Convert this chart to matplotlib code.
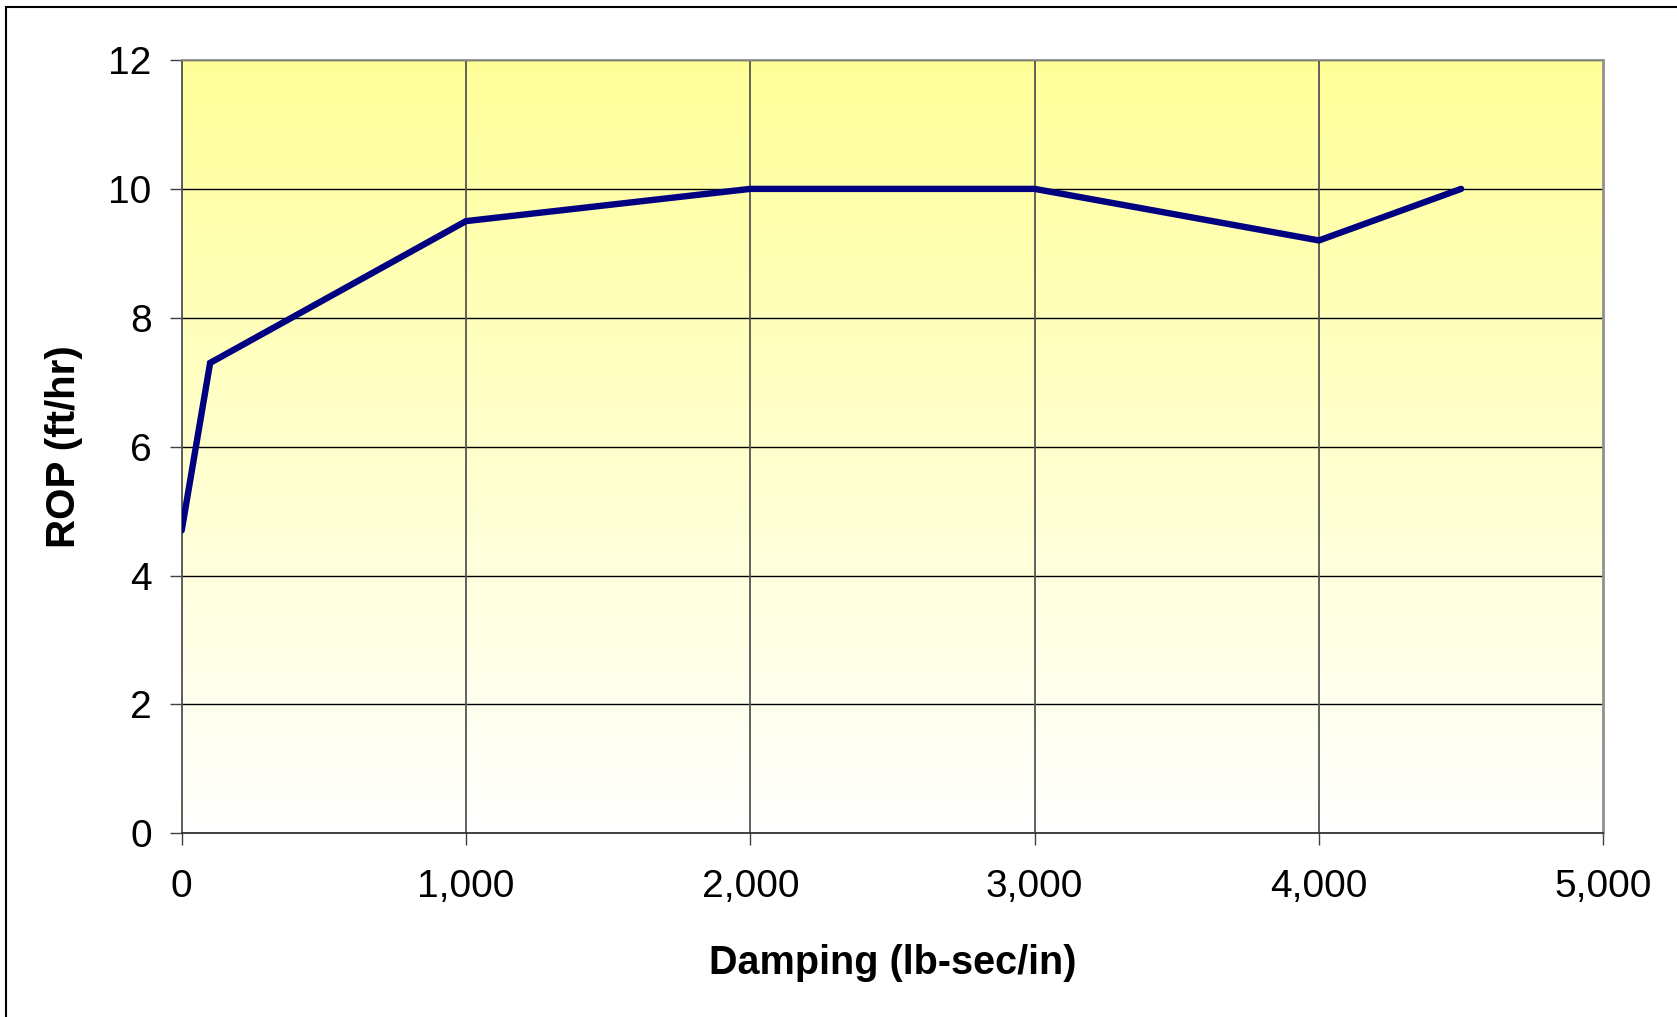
import numpy as np
import matplotlib
matplotlib.use("Agg")
import matplotlib.pyplot as plt
from matplotlib.colors import LinearSegmentedColormap
from matplotlib.ticker import FuncFormatter
from matplotlib.patches import Rectangle

# damping sweep results
damping = [0, 100, 1000, 2000, 3000, 4000, 4500]
rop = [4.7, 7.3, 9.5, 10.0, 10.0, 9.2, 10.0]

x_ticks = [0, 1000, 2000, 3000, 4000, 5000]
y_ticks = [0, 2, 4, 6, 8, 10, 12]

plt.rcParams['font.family'] = ['Liberation Sans', 'DejaVu Sans']

W, H = 1677, 1017
fig = plt.figure(figsize=(W / 100, H / 100), dpi=100)

# outer chart border (only left/top edges fall inside the image)
fig.patches.append(Rectangle((6 / W, -0.1), 1.2, 1 - 7 / H + 0.1,
                             transform=fig.transFigure, fill=False,
                             edgecolor='black', linewidth=1.5))

ax = fig.add_axes([181.7 / W, 1 - 833.3 / H, 1421.6 / W, 773.3 / H])

# yellow-to-white vertical gradient behind the plot
cmap = LinearSegmentedColormap.from_list('bg', ['#ffffff', '#ffff99'])
grad = np.linspace(0, 1, 256).reshape(-1, 1)
ax.imshow(grad, cmap=cmap, origin='lower', aspect='auto',
          extent=[0, 5000, 0, 12], zorder=0)

ax.set_xlim(0, 5000)
ax.set_ylim(0, 12)
ax.set_xticks(x_ticks)
ax.set_yticks(y_ticks)
ax.xaxis.set_major_formatter(FuncFormatter(lambda v, p: f"{int(v):,}"))

for y in y_ticks[1:]:
    ax.axhline(y, color='black', linewidth=1.0, zorder=1)
for x in x_ticks[1:-1]:
    ax.axvline(x, color='#555555', linewidth=1.3, zorder=1)

ax.plot(damping, rop, color='#000080', linewidth=4.6, zorder=3,
        solid_joinstyle='miter', solid_capstyle='round')

ax.spines['left'].set_color('#505050')
ax.spines['bottom'].set_color('#303030')
ax.spines['top'].set_color('#909090')
ax.spines['right'].set_color('#909090')
ax.spines['left'].set_linewidth(1.3)
ax.spines['bottom'].set_linewidth(1.3)
ax.spines['top'].set_linewidth(1.3)
ax.spines['right'].set_linewidth(2.0)

ax.tick_params(axis='both', direction='out', length=8.6, width=1.0,
               color='#404040', labelsize=28)
ax.tick_params(axis='y', pad=13)
ax.tick_params(axis='x', pad=17)

ax.set_xlabel('Damping (lb-sec/in)', fontsize=28.5, fontweight='bold', labelpad=28)
ax.set_ylabel('ROP (ft/hr)', fontsize=29, fontweight='bold', labelpad=18)

fig.savefig('out.png', dpi=100)
